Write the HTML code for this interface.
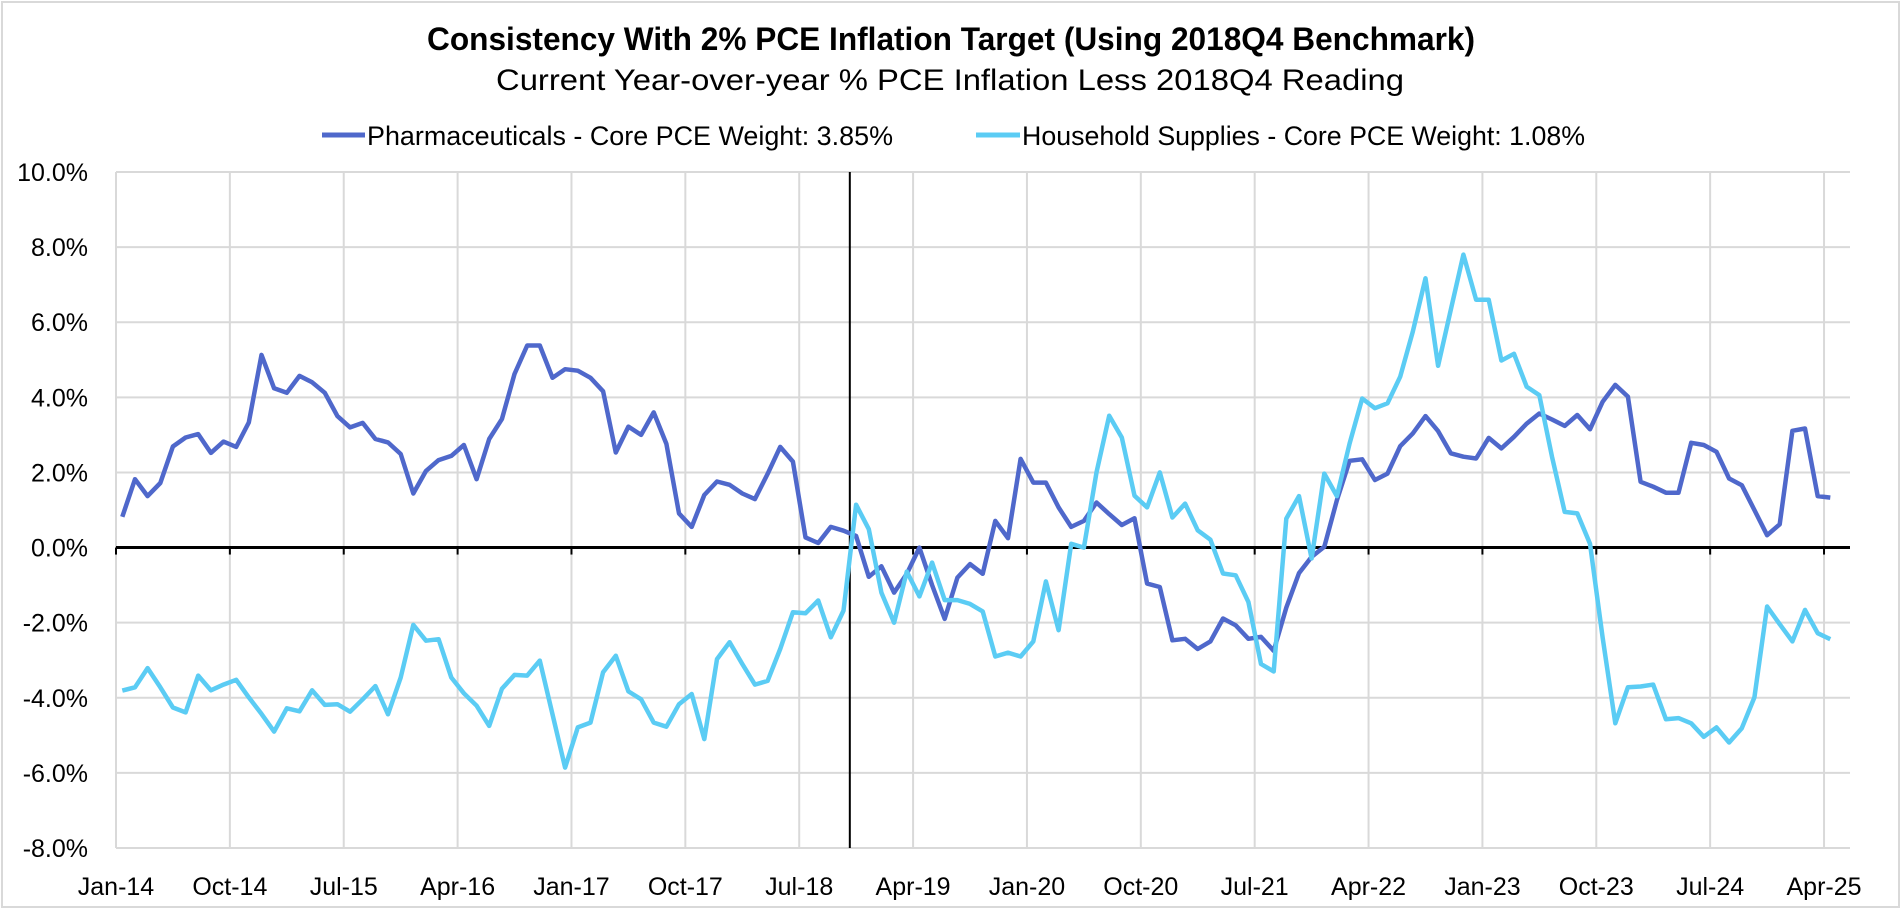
<!DOCTYPE html>
<html><head><meta charset="utf-8">
<style>
html,body{margin:0;padding:0;background:#fff;}
svg{display:block;font-family:"Liberation Sans",sans-serif;}
</style></head>
<body>
<svg id="chart" width="1904" height="910" viewBox="0 0 1904 910" xmlns="http://www.w3.org/2000/svg">
<rect x="2" y="2" width="1897" height="905" fill="#fff" stroke="#d9d9d9" stroke-width="2"/>
<text x="951" y="50" text-anchor="middle" font-size="32" font-weight="bold" textLength="1048" lengthAdjust="spacingAndGlyphs">Consistency With 2% PCE Inflation Target (Using 2018Q4 Benchmark)</text>
<text x="950" y="90" text-anchor="middle" font-size="30" textLength="908" lengthAdjust="spacingAndGlyphs">Current Year-over-year % PCE Inflation Less 2018Q4 Reading</text>
<g>
<g>
<line x1="322" y1="135" x2="365" y2="135" stroke="#4F68CB" stroke-width="5"/>
<text x="367" y="145" font-size="27" textLength="526" lengthAdjust="spacingAndGlyphs">Pharmaceuticals - Core PCE Weight: 3.85%</text>
</g>
<g>
<line x1="976" y1="135" x2="1020" y2="135" stroke="#5BCCF4" stroke-width="5"/>
<text x="1022" y="145" font-size="27" textLength="563" lengthAdjust="spacingAndGlyphs">Household Supplies - Core PCE Weight: 1.08%</text>
</g>
</g>
<g id="grid"></g>
<g id="yaxis"></g>
<g id="xaxis"></g>
<g id="series"></g>
</svg>
<script>
const tickValues = [10,8,6,4,2,0,-2,-4,-6,-8];
const xTickLabels = ["Jan-14","Oct-14","Jul-15","Apr-16","Jan-17","Oct-17","Jul-18","Apr-19","Jan-20","Oct-20","Jul-21","Apr-22","Jan-23","Oct-23","Jul-24","Apr-25"];
const xTickMonths = [0,9,18,27,36,45,54,63,72,81,90,99,108,117,126,135];
const benchmarkMonth = 58;
const pharmaceuticals = [0.82,1.82,1.37,1.72,2.69,2.93,3.02,2.52,2.82,2.68,3.33,5.13,4.24,4.12,4.57,4.4,4.12,3.5,3.2,3.32,2.89,2.8,2.49,1.44,2.04,2.33,2.44,2.73,
1.82,2.89,3.42,4.62,5.38,5.38,4.52,4.75,4.71,4.52,4.16,2.53,3.22,3.0,3.6,2.76,0.91,0.55,1.4,1.76,1.67,1.44,1.29,1.96,2.68,2.29,0.27,0.12,0.55,
0.45,0.31,-0.78,-0.5,-1.2,-0.7,0,-1.0,-1.9,-0.8,-0.44,-0.7,0.71,0.25,2.36,1.73,1.73,1.07,0.55,0.71,1.2,0.89,0.6,0.78,
-0.96,-1.05,-2.47,-2.43,-2.7,-2.5,-1.89,-2.07,-2.43,-2.38,-2.75,-1.6,-0.68,-0.25,0.02,1.26,2.31,2.35,1.8,1.97,2.7,3.04,3.5,
3.1,2.51,2.42,2.37,2.92,2.64,2.95,3.3,3.57,3.41,3.24,3.53,3.15,3.88,4.33,4.02,1.75,1.62,1.46,1.46,2.79,2.73,2.55,1.84,1.66,1.0,0.33,0.62,3.11,3.17,1.37,1.33];
const householdSupplies = [-3.81,-3.72,-3.21,-3.72,-4.26,-4.39,-3.41,-3.8,-3.65,-3.52,-3.99,-4.43,-4.9,-4.28,-4.36,-3.8,-4.19,-4.17,-4.37,-4.04,-3.69,-4.44,-3.46,-2.06,-2.48,-2.44,-3.46,-3.88,-4.21,-4.75,-3.76,
-3.39,-3.41,-3.01,-4.44,-5.86,-4.79,-4.66,-3.32,-2.88,-3.83,-4.04,-4.66,-4.77,-4.17,-3.9,-5.1,-2.97,-2.52,-3.1,-3.65,-3.55,-2.7,-1.72,-1.75,-1.41,-2.39,-1.68,
1.14,0.49,-1.2,-2.0,-0.64,-1.3,-0.4,-1.4,-1.4,-1.5,-1.7,-2.9,-2.8,-2.9,-2.5,-0.9,-2.2,0.1,0.0,2.0,3.51,2.93,1.38,1.07,2.0,
0.8,1.17,0.46,0.21,-0.69,-0.74,-1.45,-3.1,-3.3,0.77,1.37,-0.29,1.97,1.37,2.77,3.97,3.71,3.84,4.55,5.75,7.17,4.84,6.33,7.8,6.6,6.6,4.98,5.16,
4.28,4.06,2.42,0.95,0.91,0.1,-2.39,-4.68,-3.72,-3.7,-3.65,-4.57,-4.54,-4.68,-5.04,-4.79,-5.19,-4.81,-3.99,-1.57,-2.04,-2.5,-1.66,-2.28,-2.44];

const NS = "http://www.w3.org/2000/svg";
const L = 116, R = 1850, T = 172, B = 848, YMAX = 10, YMIN = -8, MW = 12.652;
function yScale(v){ return T + (YMAX - v) / (YMAX - YMIN) * (B - T); }
function xTick(m){ return L + m * MW; }
function xPoint(i){ return L + (i + 0.5) * MW; }
function mk(tag, attrs, parent){
  const e = document.createElementNS(NS, tag);
  for (const k in attrs) e.setAttribute(k, attrs[k]);
  parent.appendChild(e);
  return e;
}
const grid = document.getElementById('grid');
const yaxis = document.getElementById('yaxis');
const xaxis = document.getElementById('xaxis');
const series = document.getElementById('series');

tickValues.forEach(v => {
  const y = yScale(v);
  if (v !== 0) {
    const g = mk('line', {x1: L, x2: R, y1: y, y2: y, stroke: '#d9d9d9', 'stroke-width': 2}, grid);
    
    
  }
  const t = mk('text', {x: 88, y: y + 9, 'text-anchor': 'end', 'font-size': 25}, yaxis);
  t.textContent = v.toFixed(1) + '%';
  
  
});
xTickMonths.forEach((m, k) => {
  const x = xTick(m);
  const g = mk('line', {x1: x, x2: x, y1: T, y2: B, stroke: '#d9d9d9', 'stroke-width': 2}, grid);
  
  
  const tk = mk('line', {x1: x, x2: x, y1: yScale(0), y2: yScale(0) + 7, stroke: '#000', 'stroke-width': 2}, xaxis);
  
  
  const t = mk('text', {x: x, y: 895, 'text-anchor': 'middle', 'font-size': 25}, xaxis);
  t.textContent = xTickLabels[k];
  
  
});
const zero = mk('line', {x1: L, x2: R, y1: yScale(0), y2: yScale(0), stroke: '#000', 'stroke-width': 3}, xaxis);


const bm = mk('line', {x1: xTick(benchmarkMonth), x2: xTick(benchmarkMonth), y1: T, y2: B, stroke: '#000', 'stroke-width': 2}, xaxis);



function drawLine(vals, color, name){
  const pts = vals.map((v, i) => xPoint(i).toFixed(1) + ',' + yScale(v).toFixed(1)).join(' ');
  const p = mk('polyline', {points: pts, fill: 'none', stroke: color, 'stroke-width': 4.5, 'stroke-linejoin': 'round'}, series);
  
  
}
drawLine(pharmaceuticals, '#4F68CB', 'pharmaceuticals-line');
drawLine(householdSupplies, '#5BCCF4', 'household-supplies-line');
</script>
</body></html>
